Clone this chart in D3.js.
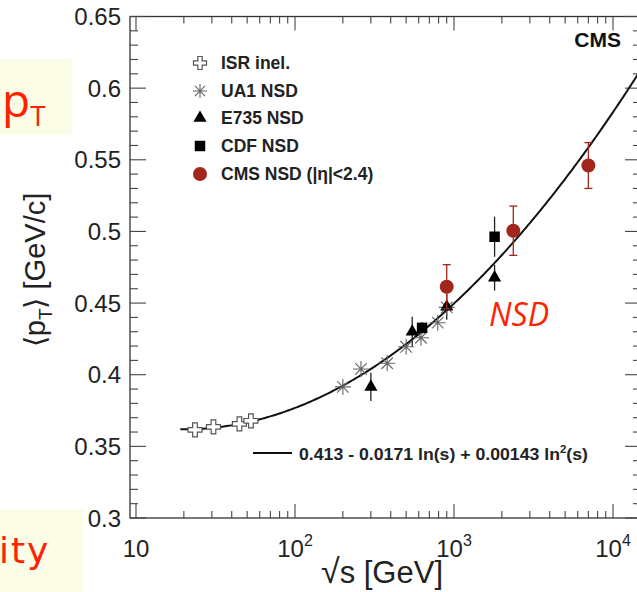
<!DOCTYPE html>
<html>
<head>
<meta charset="utf-8">
<script src="https://cdn.jsdelivr.net/npm/d3@7"></script>
<style>
  body { margin: 0; background: #fff; }
  svg { display: block; font-family: "Liberation Sans", Arial, sans-serif; }
</style>
</head>
<body>
<div id="chart"></div>
<script>
const width = 637, height = 592;

// data (sqrt(s) in GeV, <pT> in GeV/c)
const isrX = [23.5, 30.7, 44.7, 52.8];
const isrY = [0.3615, 0.3636, 0.3657, 0.3678];
const ua1X = [200, 260, 380, 500, 620, 790, 900];
const ua1Y = [0.3915, 0.404, 0.408, 0.4195, 0.4258, 0.4363, 0.447];
const e735X = [300, 546, 900, 1800];
const e735Y = [0.3915, 0.430, 0.4474, 0.4677];
const e735Err = [0.0098, 0.0105, 0.009, 0.009];
const cdfX = [630, 1800];
const cdfY = [0.4327, 0.4963];
const cdfErr = [0.004, 0.014];
const cmsX = [900, 2360, 7000];
const cmsY = [0.4614, 0.5005, 0.546];
const cmsErr = [0.0154, 0.0172, 0.016];
const fitCoef = [0.413, -0.0171, 0.00143];
const yTicks = [0.3, 0.35, 0.4, 0.45, 0.5, 0.55, 0.6, 0.65];
const xTickExp = [1, 2, 3, 4];
const legendLabels = ["ISR inel.", "UA1 NSD", "E735 NSD", "CDF NSD", "CMS NSD (|η|<2.4)"];

const margin = { left: 130, right: 641, top: 16.5, bottom: 518 };
const red = "#a3261c";

const svg = d3.select("#chart").append("svg")
    .attr("width", width)
    .attr("height", height);

// slide pieces behind the figure
svg.append("rect").attr("x", 0).attr("y", 59).attr("width", 72).attr("height", 76).attr("fill", "#fbfde7");
svg.append("rect").attr("x", 0).attr("y", 509).attr("width", 83).attr("height", 83).attr("fill", "#fbfde7");
const ptText = svg.append("text").attr("x", 2).attr("y", 117).attr("fill", "#ff2200")
    .style("font-family", "'Open Sans', 'DejaVu Sans', sans-serif").style("font-size", "46px");
ptText.append("tspan").text("p");
ptText.append("tspan").attr("dy", 9).style("font-size", "28px").text("T");
svg.append("text").attr("x", -1).attr("y", 563).attr("fill", "#ff2200")
    .style("font-family", "'DejaVu Sans', sans-serif").style("font-size", "36px")
    .style("letter-spacing", "2px")
    .text("ity");

const x = d3.scaleLog().domain([10 ** (1 - 6 / 159), 10 ** (4 + 28 / 159)]).range([margin.left, margin.right]);
const y = d3.scaleLinear().domain([0.3, 0.65]).range([margin.bottom, margin.top]);

svg.append("clipPath").attr("id", "clip")
    .append("rect").attr("x", margin.left).attr("y", margin.top)
    .attr("width", margin.right - margin.left).attr("height", margin.bottom - margin.top);

// frame
svg.append("rect")
    .attr("x", margin.left).attr("y", margin.top)
    .attr("width", margin.right - margin.left).attr("height", margin.bottom - margin.top)
    .attr("fill", "none").attr("stroke", "#333").attr("stroke-width", 1.3);

// ticks on all four sides
const axisG = svg.append("g").attr("stroke", "#444").attr("stroke-width", 1.1);
const xMinor = [];
for (let e = 1; e <= 4; e++) {
    for (let m = 1; m <= 9; m++) {
        const v = m * 10 ** e;
        if (v >= x.domain()[0] && v <= x.domain()[1]) xMinor.push({ v, major: m === 1 });
    }
}
xMinor.forEach(t => {
    const len = t.major ? 14 : 7;
    axisG.append("line").attr("x1", x(t.v)).attr("x2", x(t.v))
        .attr("y1", margin.bottom).attr("y2", margin.bottom - len);
    axisG.append("line").attr("x1", x(t.v)).attr("x2", x(t.v))
        .attr("y1", margin.top).attr("y2", margin.top + len);
});
d3.range(30, 66).forEach(i => {
    const v = i / 100;
    const major = i % 5 === 0;
    const len = major ? 16 : 8;
    axisG.append("line").attr("x1", margin.left).attr("x2", margin.left + len)
        .attr("y1", y(v)).attr("y2", y(v));
    axisG.append("line").attr("x1", margin.right).attr("x2", margin.right - len)
        .attr("y1", y(v)).attr("y2", y(v));
});

// y tick labels
svg.append("g").selectAll("text")
    .data(yTicks)
    .enter().append("text")
    .attr("x", 121)
    .attr("y", d => y(d) + 8.5)
    .attr("text-anchor", "end")
    .style("font-size", "24px")
    .attr("fill", "#222")
    .text(d => d3.format("")(d));

// x tick labels
const xl = svg.append("g").selectAll("text")
    .data(xTickExp)
    .enter().append("text")
    .attr("x", d => x(10 ** d))
    .attr("y", 557)
    .attr("text-anchor", "middle")
    .style("font-size", "24px")
    .attr("fill", "#222");
xl.append("tspan").text("10");
xl.filter(d => d > 1).append("tspan").attr("dy", -11).style("font-size", "16px").text(d => d);

// axis titles
const xt = svg.append("text").attr("x", 382).attr("y", 583).attr("text-anchor", "middle")
    .style("font-size", "31px").attr("fill", "#222");
xt.append("tspan").style("font-size", "34px").text("√");
xt.append("tspan").text("s [GeV]");

const yt = svg.append("text")
    .attr("transform", "translate(45,270) rotate(-90)")
    .attr("text-anchor", "middle")
    .style("font-size", "29px").attr("fill", "#222");
yt.append("tspan").text("⟨p");
yt.append("tspan").attr("dy", 7).style("font-size", "19px").text("T");
yt.append("tspan").attr("dy", -7).text("⟩ [GeV/c]");

// fit curve
const fit = d => {
    const l = Math.log(d * d);
    return fitCoef[0] + fitCoef[1] * l + fitCoef[2] * l * l;
};
const curveX = d3.range(0, 301).map(i => 10 ** (Math.log10(19) + i * (Math.log10(16000) - Math.log10(19)) / 300));
svg.append("path")
    .datum(curveX)
    .attr("clip-path", "url(#clip)")
    .attr("fill", "none")
    .attr("stroke", "#111")
    .attr("stroke-width", 2)
    .attr("d", d3.line().x(d => x(d)).y(d => y(fit(d))));

// marker shapes
function crossPath(s) {
    const a = s / 2, b = s / 6;
    return `M${-b},${-a}H${b}V${-b}H${a}V${b}H${b}V${a}H${-b}V${b}H${-a}V${-b}H${-b}Z`;
}
function starPath(s) {
    const a = s / 2, d = a * 0.72;
    return `M${-a},0H${a}M0,${-a}V${a}M${-d},${-d}L${d},${d}M${-d},${d}L${d},${-d}`;
}
const triSym = d3.symbol().type(d3.symbolTriangle).size(75);
const sqSym = d3.symbol().type(d3.symbolSquare).size(110);

const marks = svg.append("g");

// error bars
function errBars(xs, ys, es, color, cap) {
    xs.forEach((v, i) => {
        marks.append("line").attr("x1", x(v)).attr("x2", x(v))
            .attr("y1", y(ys[i] - es[i])).attr("y2", y(ys[i] + es[i]))
            .attr("stroke", color).attr("stroke-width", 1.3);
        if (cap) {
            [ys[i] - es[i], ys[i] + es[i]].forEach(e => {
                marks.append("line").attr("x1", x(v) - 4).attr("x2", x(v) + 4)
                    .attr("y1", y(e)).attr("y2", y(e))
                    .attr("stroke", color).attr("stroke-width", 1.3);
            });
        }
    });
}
errBars(e735X, e735Y, e735Err, "#222", false);
errBars(cdfX, cdfY, cdfErr, "#222", false);

isrX.forEach((v, i) => {
    marks.append("path").attr("d", crossPath(14))
        .attr("transform", `translate(${x(v)},${y(isrY[i])})`)
        .attr("fill", "#fff").attr("stroke", "#555").attr("stroke-width", 1.2);
});
ua1X.forEach((v, i) => {
    marks.append("path").attr("d", starPath(16))
        .attr("transform", `translate(${x(v)},${y(ua1Y[i])})`)
        .attr("fill", "none").attr("stroke", "#666").attr("stroke-width", 1.1);
});
e735X.forEach((v, i) => {
    marks.append("path").attr("d", triSym())
        .attr("transform", `translate(${x(v)},${y(e735Y[i])})`)
        .attr("fill", "#000");
});
cdfX.forEach((v, i) => {
    marks.append("path").attr("d", sqSym())
        .attr("transform", `translate(${x(v)},${y(cdfY[i])})`)
        .attr("fill", "#000");
});
errBars(cmsX, cmsY, cmsErr, red, true);
cmsX.forEach((v, i) => {
    marks.append("circle").attr("cx", x(v)).attr("cy", y(cmsY[i])).attr("r", 7)
        .attr("fill", red);
});

// legend
const legY = [63, 91, 118, 146, 174];
const leg = svg.append("g");
legendLabels.forEach((lab, i) => {
    const g = leg.append("g").attr("transform", `translate(200,${legY[i]})`);
    if (i === 0) g.append("path").attr("d", crossPath(13)).attr("fill", "#fff").attr("stroke", "#555").attr("stroke-width", 1.2);
    if (i === 1) g.append("path").attr("d", starPath(14)).attr("fill", "none").attr("stroke", "#666").attr("stroke-width", 1.1);
    if (i === 2) g.append("path").attr("d", triSym()).attr("fill", "#000");
    if (i === 3) g.append("path").attr("d", sqSym()).attr("fill", "#000");
    if (i === 4) g.append("circle").attr("r", 7).attr("fill", red);
    g.append("text").attr("x", 21).attr("y", 6)
        .style("font-size", "17.5px").style("font-weight", "bold").attr("fill", "#222")
        .text(lab);
});

// fit legend
svg.append("line").attr("x1", 253).attr("x2", 292).attr("y1", 453).attr("y2", 453)
    .attr("stroke", "#111").attr("stroke-width", 2.2);
const ft = svg.append("text").attr("x", 299).attr("y", 459.5)
    .attr("textLength", 289).attr("lengthAdjust", "spacingAndGlyphs")
    .style("font-size", "17px").style("font-weight", "bold").attr("fill", "#222");
ft.append("tspan").text("0.413 - 0.0171 ln(s) + 0.00143 ln");
ft.append("tspan").attr("dy", -7).style("font-size", "11px").text("2");
ft.append("tspan").attr("dy", 7).text("(s)");

// CMS label
svg.append("text").attr("x", 621).attr("y", 47).attr("text-anchor", "end")
    .style("font-size", "21px").style("font-weight", "bold").attr("fill", "#111")
    .text("CMS");

// slide annotation
svg.append("text").attr("x", 489).attr("y", 326)
    .style("font-family", "'Open Sans', 'DejaVu Sans', sans-serif")
    .style("font-size", "32px").style("font-style", "italic").attr("fill", "#ff2200")
    .text("NSD");
</script>
</body>
</html>
